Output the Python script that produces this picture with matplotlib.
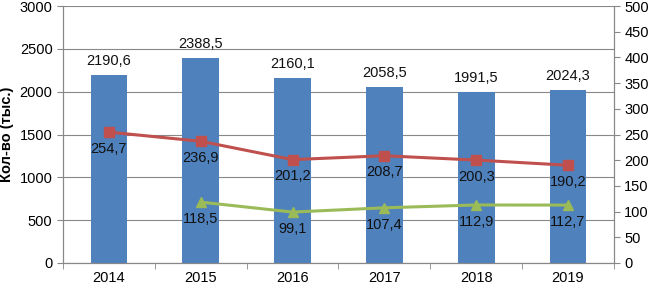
import numpy as np
import matplotlib
matplotlib.use('Agg')
import matplotlib.pyplot as plt

plt.rcParams['font.family'] = ['Liberation Sans', 'DejaVu Sans']

years = ['2014', '2015', '2016', '2017', '2018', '2019']
bars = [2190.6, 2388.5, 2160.1, 2058.5, 1991.5, 2024.3]
red = [254.7, 236.9, 201.2, 208.7, 200.3, 190.2]
green_years = ['2015', '2016', '2017', '2018', '2019']
green = [118.5, 99.1, 107.4, 112.9, 112.7]


def fmt(v):
    return ('%.1f' % v).replace('.', ',')


fig = plt.figure(figsize=(6.49, 2.89), dpi=100)
ax = fig.add_axes([0.097, 0.09, 0.849, 0.889])
x = np.arange(len(years))
ax.bar(x, bars, width=0.4, color='#4F81BD', zorder=2)
for xi, v in zip(x, bars):
    ax.annotate(fmt(v), (xi, v), xytext=(0, 5), textcoords='offset points',
                ha='center', va='bottom', fontsize=10.5, color='#111111')

ax.set_ylim(0, 3000)
ax.set_yticks(np.arange(0, 3001, 500))
ax.set_xlim(-0.5, len(years) - 0.5)
ax.set_xticks(x)
ax.set_xticklabels(years)
ax.set_xticks(np.arange(-0.5, len(years)), minor=True)
ax.tick_params(axis='x', which='major', length=0, pad=6, labelsize=10.5)
ax.tick_params(axis='x', which='minor', length=4, color='#888888')
ax.tick_params(axis='y', length=4, color='#888888', labelsize=10.5)
ax.grid(axis='y', color='#888888', linewidth=0.8, zorder=0)
ax.set_axisbelow(True)
ax.set_ylabel('Кол-во (тыс.)', fontsize=10.5, fontweight='bold', labelpad=4)
for s in ['top']:
    ax.spines[s].set_visible(False)
for s in ['left', 'bottom', 'right']:
    ax.spines[s].set_color('#888888')

ax2 = ax.twinx()
ax2.set_ylim(0, 500)
ax2.set_yticks(np.arange(0, 501, 50))
ax2.tick_params(axis='y', length=4, color='#888888', labelsize=10.5)
for s in ['top']:
    ax2.spines[s].set_visible(False)
for s in ['left', 'bottom', 'right']:
    ax2.spines[s].set_color('#888888')

ax2.plot(x, red, color='#C0504D', linewidth=2.2, marker='s', markersize=7, zorder=3)
gx = [years.index(g) for g in green_years]
ax2.plot(gx, green, color='#9BBB59', linewidth=2.2, marker='^', markersize=7, zorder=3)
for xi, v in zip(x, red):
    ax2.annotate(fmt(v), (xi, v), xytext=(0, -7), textcoords='offset points',
                 ha='center', va='top', fontsize=10.5, color='#111111')
for xi, v in zip(gx, green):
    ax2.annotate(fmt(v), (xi, v), xytext=(0, -7), textcoords='offset points',
                 ha='center', va='top', fontsize=10.5, color='#111111')

fig.savefig('out.png', dpi=100)
